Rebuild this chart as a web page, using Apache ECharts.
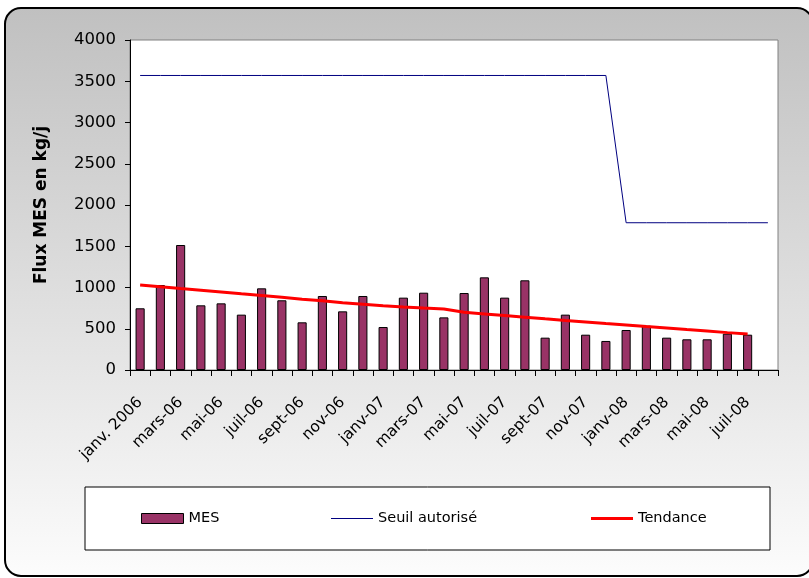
<!DOCTYPE html>
<html>
<head>
<meta charset="utf-8">
<script src="https://cdn.jsdelivr.net/npm/echarts@6/dist/echarts.min.js"></script>
<style>
  html, body { margin: 0; padding: 0; background: #fff; }
  #chart { width: 809px; height: 578px; }
</style>
</head>
<body>
<div id="chart"></div>
<script>
// mois de janv. 2006 à août 2008
const months = [
  'janv. 2006', 'févr-06', 'mars-06', 'avr-06', 'mai-06', 'juin-06', 'juil-06', 'août-06',
  'sept-06', 'oct-06', 'nov-06', 'déc-06', 'janv-07', 'févr-07', 'mars-07', 'avr-07',
  'mai-07', 'juin-07', 'juil-07', 'août-07', 'sept-07', 'oct-07', 'nov-07', 'déc-07',
  'janv-08', 'févr-08', 'mars-08', 'avr-08', 'mai-08', 'juin-08', 'juil-08', 'août-08'
]
// flux MES mesuré (kg/j)
const mes = [
  748, 1030, 1515, 784, 808, 671, 990, 845, 578, 897, 711, 897, 521, 877, 937, 638,
  933, 1123, 877, 1087, 392, 671, 428, 352, 485, 537, 392, 372, 372, 440, 428
]
// seuil autorisé (kg/j)
const seuil = [
  3570, 3570, 3570, 3570, 3570, 3570, 3570, 3570, 3570, 3570, 3570, 3570, 3570, 3570, 3570, 3570,
  3570, 3570, 3570, 3570, 3570, 3570, 3570, 3570, 1785, 1785, 1785, 1785, 1785, 1785, 1785, 1785
]
// courbe de tendance
const tendance = [
  1030, 1009, 987, 966, 945, 923, 902, 881, 859, 838, 816, 798, 780, 765, 752, 740,
  700, 680, 660, 640, 620, 601, 583, 564, 546, 527, 509, 490, 472, 453, 435
]
const yTicks = [0, 500, 1000, 1500, 2000, 2500, 3000, 3500, 4000]

const font = 'DejaVu Sans, Arial, sans-serif'
let legendText = { fontFamily: font, fontSize: 14.5, color: '#000' }
let myChart = echarts.init(document.getElementById('chart'))
let option = {
  animation: false,
  textStyle: { fontFamily: font, color: '#000' },
  graphic: [
    {
      // cadre arrondi avec dégradé gris
      type: 'rect', z: -10,
      shape: { x: 5, y: 8, width: 808, height: 568, r: 16 },
      style: {
        fill: {
          type: 'linear', x: 0, y: 0, x2: 0, y2: 1,
          colorStops: [{ offset: 0, color: '#c0c0c0' }, { offset: 1, color: '#fcfcfc' }]
        },
        stroke: '#000', lineWidth: 2
      }
    },
    {
      // cadre de la légende
      type: 'rect', z: -5,
      shape: { x: 85, y: 487, width: 685, height: 63 },
      style: { fill: '#fff', stroke: '#000', lineWidth: 1 }
    }
  ],
  grid: {
    show: true,
    left: 130, top: 40, right: 31, bottom: 208,
    backgroundColor: '#fff',
    borderColor: '#808080',
    borderWidth: 1
  },
  legend: [
    {
      data: [{ name: 'MES', icon: 'rect' }], left: 141, top: 511, padding: 0,
      itemWidth: 42, itemHeight: 10, itemGap: 5,
      itemStyle: { borderWidth: 1, borderColor: '#000' },
      textStyle: legendText
    },
    {
      data: [{ name: 'Seuil autorisé', icon: 'rect' }], left: 331, top: 511, padding: 0,
      itemWidth: 42, itemHeight: 1, itemGap: 5,
      textStyle: legendText
    },
    {
      data: [{ name: 'Tendance', icon: 'rect' }], left: 591, top: 511, padding: 0,
      itemWidth: 42, itemHeight: 3, itemGap: 5,
      textStyle: legendText
    }
  ],
  xAxis: {
    type: 'category',
    data: months,
    boundaryGap: true,
    axisLine: { lineStyle: { color: '#000', width: 1 } },
    axisTick: { show: true, interval: 0, length: 6, lineStyle: { color: '#000' } },
    axisLabel: {
      interval: 1, rotate: 45, fontSize: 15.5, color: '#000', margin: 30,
      fontFamily: font
    },
    splitLine: { show: false }
  },
  yAxis: {
    type: 'value',
    min: 0, max: 4000, interval: 500,
    name: 'Flux MES en kg/j',
    nameLocation: 'middle',
    nameGap: 80,
    nameTextStyle: { fontFamily: font, fontSize: 17, fontWeight: 'bold', color: '#000' },
    axisLine: { show: true, lineStyle: { color: '#000', width: 1 } },
    axisTick: { show: true, length: 5, lineStyle: { color: '#000' } },
    axisLabel: {
      fontSize: 16.5, color: '#000', margin: 14, fontFamily: font,
      formatter: v => yTicks.indexOf(v) >= 0 ? String(v) : ''
    },
    splitLine: { show: false }
  },
  series: [
    {
      name: 'MES',
      type: 'bar',
      data: mes,
      barWidth: '45%',
      itemStyle: { color: '#993366', borderColor: '#000', borderWidth: 1 },
      z: 2
    },
    {
      name: 'Seuil autorisé',
      type: 'line',
      data: seuil,
      symbol: 'none',
      lineStyle: { color: '#000080', width: 1 },
      itemStyle: { color: '#000080' },
      z: 3
    },
    {
      name: 'Tendance',
      type: 'line',
      data: tendance,
      symbol: 'none',
      lineStyle: { color: '#ff0000', width: 3 },
      itemStyle: { color: '#ff0000' },
      z: 4
    }
  ]
}
myChart.setOption(option)
</script>
</body>
</html>
